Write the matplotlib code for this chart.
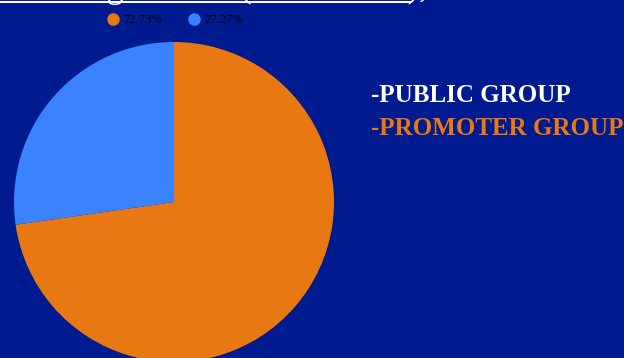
import matplotlib
matplotlib.use("Agg")
import matplotlib.pyplot as plt
from matplotlib.lines import Line2D

# share values (percent)
labels = ["72.73%", "27.27%"]
values = [72.73, 27.27]
colors = ["#E87811", "#3A82FF"]
group_names = ["-PUBLIC GROUP", "-PROMOTER GROUP"]
group_colors = ["#FFFFFF", "#E87811"]

bg = "#001A8F"
W, H = 624, 358

fig = plt.figure(figsize=(W / 100, H / 100), dpi=100)
fig.patch.set_facecolor(bg)

# pie axes, placed in pixel terms
cx, cy, r = 174, 202, 160
ax = fig.add_axes([(cx - r) / W, (H - cy - r) / H, 2 * r / W, 2 * r / H])
ax.pie(values, colors=colors, startangle=90, counterclock=False, radius=1,
       wedgeprops=dict(linewidth=0))
ax.set_xlim(-1, 1)
ax.set_ylim(-1, 1)
ax.set_aspect("equal")
ax.axis("off")
for p in ax.patches:
    p.set_clip_on(False)

# title mostly cut off at the top edge
fig.text(-62 / W, 1 + 3 / H, "Shareholding Pattern (31.03.2023),", color="white",
         fontsize=25, family="Liberation Serif", va="baseline", ha="left")
fig.add_artist(Line2D([0, 410 / W], [1 - 1.5 / H, 1 - 1.5 / H], color="white", lw=1.5))

# legend
handles = [Line2D([], [], marker="o", ls="", color=c, markersize=8) for c in colors]
leg = fig.legend(handles, labels, loc="center left", bbox_to_anchor=(94 / W, 1 - 20 / H),
                 ncol=2, frameon=False, prop=dict(family="Liberation Serif", size=9),
                 handletextpad=0.2, columnspacing=2.0, handlelength=1.2)
for t in leg.get_texts():
    t.set_color("black")

# group labels on the right
for i, (name, col) in enumerate(zip(group_names, group_colors)):
    fig.text(371 / W, 1 - (96 + 32 * i) / H, name, color=col, fontsize=18,
             fontweight="bold", family="Liberation Serif", va="center", ha="left")

fig.savefig("out.png", dpi=100, facecolor=bg)
